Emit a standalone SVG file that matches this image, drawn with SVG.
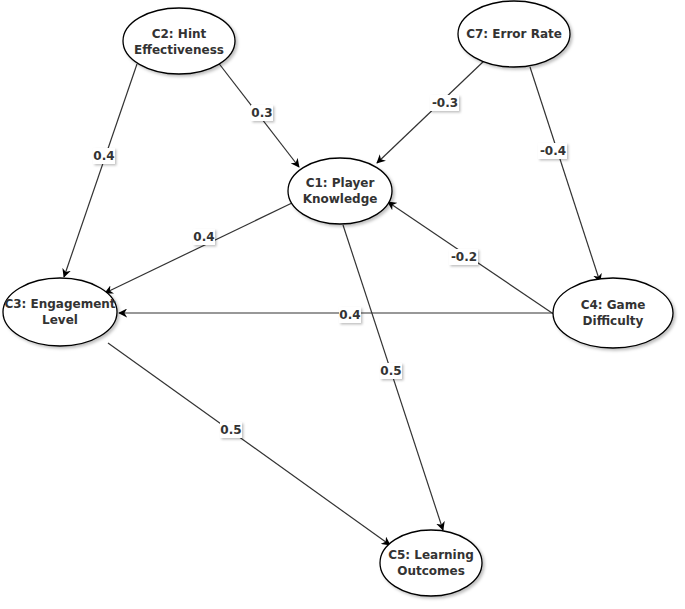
<svg xmlns="http://www.w3.org/2000/svg" width="685" height="609" viewBox="0 0 685 609">
<style>
.node ellipse{fill:#fff;stroke:#000;stroke-width:1.3;filter:url(#sh)}
.node text{font-family:"DejaVu Sans",Verdana,sans-serif;font-weight:bold;font-size:12px;fill:#333;text-anchor:middle}
.edges line{stroke:#333;stroke-width:1.2;marker-end:url(#arr)}
.lbl rect{fill:#fff;filter:url(#sh2)}
.lbl text{font-family:"DejaVu Sans",Verdana,sans-serif;font-weight:bold;font-size:12px;fill:#333;text-anchor:middle}
</style>
<defs>
<filter id="sh" x="-20%" y="-20%" width="150%" height="150%">
<feDropShadow dx="2" dy="2" stdDeviation="1.5" flood-color="#000" flood-opacity="0.25"/>
</filter>
<filter id="sh2" x="-30%" y="-30%" width="170%" height="170%">
<feDropShadow dx="1.5" dy="1.5" stdDeviation="1" flood-color="#000" flood-opacity="0.25"/>
</filter>
<marker id="arr" viewBox="0 0 10 10" refX="9" refY="5" markerWidth="9" markerHeight="9" markerUnits="userSpaceOnUse" orient="auto">
<path d="M0,0 L10,5 L0,10 L3,5 Z" fill="#000"/>
</marker>
</defs>
<rect width="685" height="609" fill="#fff"/>
<g class="edges" id="connectors">
<line x1="137" y1="64" x2="64" y2="277"/>
<line x1="217" y1="61" x2="299" y2="167"/>
<line x1="485" y1="60" x2="377" y2="163"/>
<line x1="530" y1="67" x2="600" y2="282"/>
<line x1="555" y1="315" x2="388" y2="202"/>
<line x1="553" y1="313" x2="119" y2="313"/>
<line x1="292" y1="203" x2="105" y2="293"/>
<line x1="343" y1="225" x2="443" y2="530"/>
<line x1="108" y1="343" x2="390" y2="545"/>
<g class="lbl">
<rect x="93" y="148" width="22" height="16"/><text x="104" y="160">0.4</text>
<rect x="251" y="105" width="22" height="16"/><text x="262" y="117">0.3</text>
<rect x="430" y="95" width="29" height="16"/><text x="445" y="107">-0.3</text>
<rect x="538" y="143" width="29" height="16"/><text x="553" y="155">-0.4</text>
<rect x="449" y="249" width="29" height="16"/><text x="464" y="261">-0.2</text>
<rect x="339" y="307" width="22" height="16"/><text x="350" y="319">0.4</text>
<rect x="193" y="229" width="22" height="16"/><text x="204" y="241">0.4</text>
<rect x="380" y="363" width="22" height="16"/><text x="391" y="375">0.5</text>
<rect x="220" y="422" width="22" height="16"/><text x="231" y="434">0.5</text>
</g>
</g>
<g class="node" id="C2"><ellipse cx="179" cy="41" rx="56" ry="33"/><text x="179" y="38">C2: Hint</text><text x="179" y="54">Effectiveness</text></g>
<g class="node" id="C7"><ellipse cx="514" cy="34" rx="56" ry="33"/><text x="514" y="38">C7: Error Rate</text></g>
<g class="node" id="C1"><ellipse cx="340" cy="191" rx="52" ry="33"/><text x="340" y="187">C1: Player</text><text x="340" y="203">Knowledge</text></g>
<g class="node" id="C3"><ellipse cx="60" cy="312" rx="57" ry="34"/><text x="60" y="308">C3: Engagement</text><text x="60" y="324">Level</text></g>
<g class="node" id="C4"><ellipse cx="613" cy="313" rx="60" ry="35"/><text x="613" y="309">C4: Game</text><text x="613" y="325">Difficulty</text></g>
<g class="node" id="C5"><ellipse cx="431" cy="563" rx="51" ry="33"/><text x="431" y="559">C5: Learning</text><text x="431" y="575">Outcomes</text></g>
</svg>
